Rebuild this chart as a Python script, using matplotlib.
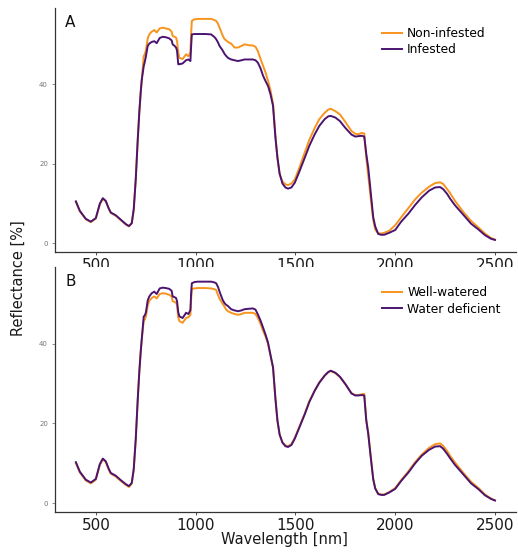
import matplotlib
matplotlib.use("Agg")
import matplotlib.pyplot as plt

# wavelengths [nm]
wl = [400, 420, 450, 475, 500, 520, 535, 550, 565, 575, 600, 625, 650, 666, 680, 690,
      700, 710, 718, 725, 730, 740, 745, 751, 760, 768, 780, 793, 805, 820, 835, 850,
      868, 880, 885, 895, 902, 907, 913, 919, 935, 952, 964, 974, 977, 981, 994, 1010,
      1050, 1078, 1095, 1103, 1112, 1120, 1135, 1145, 1153, 1162, 1178, 1195, 1212, 1230,
      1245, 1265, 1287, 1300, 1312, 1325, 1338, 1350, 1363, 1375, 1388, 1400, 1410, 1421,
      1435, 1450, 1463, 1480, 1497, 1520, 1547, 1570, 1597, 1620, 1647, 1665, 1677, 1700,
      1723, 1750, 1781, 1800, 1815, 1832, 1845, 1855, 1865, 1878, 1890, 1900, 1915, 1930,
      1945, 1970, 2000, 2030, 2066, 2100, 2133, 2170, 2200, 2225, 2240, 2260, 2275, 2300,
      2342, 2380, 2418, 2450, 2480, 2500]

vis_a = [10.4, 8.0, 6.0, 5.3, 6.2, 9.8, 11.2, 10.5, 8.6, 7.6, 6.9, 5.8, 4.7, 4.2, 5.0, 8.5,
         16.0, 26.0, 33.0, 38.0, 41.0]
vis_b = [10.3, 7.9, 5.9, 5.2, 6.1, 9.8, 11.2, 10.5, 8.6, 7.6, 6.9, 5.8, 4.8, 4.3, 5.1, 8.6,
         16.0, 26.0, 33.0, 38.0, 41.0]

non_infested = vis_a + [
    47.0, 47.5, 48.5, 51.5, 52.5, 53.2, 53.6, 53.0, 54.0, 54.2, 54.0,
    53.8, 53.2, 52.1, 51.9, 51.7, 50.8, 48.0, 46.6, 46.3, 47.5, 47.0, 48.0, 52.0, 55.9, 56.3, 56.4,
    56.4, 56.4, 56.1, 55.9, 55.2, 54.2, 52.3, 51.3, 51.0, 50.6, 50.2, 49.2, 49.2, 49.6,
    50.0, 49.8, 49.7, 49.4, 48.3, 46.4, 44.6, 43.0, 40.8, 38.5, 35.0, 27.0, 21.5, 17.3,
    15.5, 14.8, 14.6, 15.0, 16.0, 19.0, 22.8, 26.0, 29.0, 31.2, 32.8, 33.6, 33.8, 33.2,
    32.4, 30.5, 28.2, 27.5, 27.4, 27.7, 27.6, 21.5, 17.0, 11.0, 5.8, 3.4, 2.5, 2.4,
    2.6, 3.1, 4.5, 6.5, 8.8, 11.0, 12.7, 14.2, 15.1, 15.3, 14.9, 13.6, 12.6, 10.6,
    7.8, 5.6, 3.9, 2.4, 1.3, 0.9]
infested = [v + 0.1 for v in vis_a[:14]] + vis_a[14:] + [
    44.5, 45.5, 47.0, 49.6, 50.2, 50.6, 50.8, 50.3, 51.6, 51.9, 51.8,
    51.5, 51.0, 50.0, 49.6, 49.2, 48.4, 45.0, 45.0, 45.2, 46.0, 46.2, 45.8, 49.0, 52.5, 52.6, 52.6,
    52.6, 52.5, 51.8, 51.3, 50.5, 49.6, 48.5, 47.6, 47.1, 46.6, 46.2, 46.0, 45.8, 46.0,
    46.2, 46.2, 46.2, 46.0, 45.4, 44.0, 42.1, 40.8, 39.5, 37.5, 34.5, 26.5, 21.5, 17.5,
    15.0, 14.0, 13.7, 14.0, 15.2, 18.0, 21.5, 24.5, 27.4, 29.5, 31.2, 31.9, 32.0, 31.6,
    30.7, 29.0, 27.3, 26.8, 26.9, 27.0, 26.8, 22.5, 19.0, 12.5, 6.5, 4.2, 2.3, 2.1,
    2.1, 2.6, 3.3, 5.4, 7.4, 9.6, 11.5, 13.2, 14.0, 14.1, 13.6, 12.4, 11.2, 9.5,
    7.1, 4.9, 3.4, 2.0, 1.1, 0.8]

well_watered = [v - 0.2 for v in vis_b[:16]] + vis_b[16:] + [
    45.6, 46.0, 46.8, 49.5, 50.7, 51.4, 51.8, 51.3, 52.4, 52.6, 52.5,
    52.2, 51.8, 50.6, 50.4, 50.2, 49.6, 46.5, 45.6, 45.2, 46.4, 46.6, 47.2, 50.5, 53.7, 53.8, 53.9,
    53.9, 53.8, 53.6, 53.4, 52.2, 51.2, 50.0, 49.2, 48.5, 48.1, 47.7, 47.4, 47.2, 47.4,
    47.7, 47.7, 47.7, 47.4, 46.4, 45.0, 43.2, 41.8, 39.9, 37.0, 34.0, 26.0, 20.5, 17.2,
    15.3, 14.5, 14.3, 14.8, 16.4, 19.2, 22.5, 25.6, 28.3, 30.3, 32.0, 32.8, 33.1, 32.6,
    31.6, 29.8, 27.6, 27.1, 27.1, 27.3, 27.4, 21.0, 17.6, 11.5, 6.1, 3.8, 2.4, 2.2,
    2.2, 2.8, 3.8, 5.8, 8.0, 10.3, 12.2, 13.9, 14.8, 15.0, 14.4, 13.1, 11.9, 10.2,
    7.6, 5.4, 3.8, 2.2, 1.2, 0.7]
water_deficient = vis_b + [
    46.8, 47.0, 47.8, 50.8, 51.8, 52.6, 53.0, 52.4, 53.8, 54.0, 53.9,
    53.7, 53.2, 51.8, 51.6, 51.4, 50.6, 47.8, 46.8, 46.4, 47.7, 47.4, 48.4, 52.0, 55.1, 55.4, 55.5,
    55.5, 55.5, 55.3, 55.1, 54.2, 53.0, 51.0, 50.1, 49.7, 49.4, 48.6, 48.3, 48.1, 48.3,
    48.6, 48.7, 48.8, 48.5, 47.3, 45.8, 44.0, 42.3, 40.2, 37.2, 34.0, 26.2, 20.8, 17.2,
    15.2, 14.3, 14.1, 14.6, 16.2, 19.0, 22.3, 25.4, 28.2, 30.2, 32.0, 32.9, 33.2, 32.7,
    31.7, 29.9, 27.5, 27.0, 27.0, 27.1, 27.0, 20.8, 17.4, 11.3, 6.0, 3.7, 2.3, 2.1,
    2.1, 2.7, 3.6, 5.6, 7.7, 10.0, 11.9, 13.4, 14.2, 14.3, 13.7, 12.4, 11.3, 9.6,
    7.2, 5.0, 3.5, 2.0, 1.1, 0.7]

panels = [
    ("A", non_infested, infested, "Non-infested", "Infested"),
    ("B", well_watered, water_deficient, "Well-watered", "Water deficient"),
]

orange = "#F7941D"
purple = "#4B1470"

fig = plt.figure(figsize=(5.18, 5.56), dpi=100)
boxes = [[0.106, 0.547, 0.89, 0.439], [0.106, 0.079, 0.89, 0.441]]

for box, (tag, s1, s2, lab1, lab2) in zip(boxes, panels):
    ax = fig.add_axes(box)
    ax.plot(wl, s1, color=orange, lw=1.4, label=lab1)
    ax.plot(wl, s2, color=purple, lw=1.4, label=lab2)
    ax.set_xlim(295, 2605)
    ax.set_ylim(-2.2, 59.2)
    ax.set_xticks([500, 1000, 1500, 2000, 2500])
    ax.set_yticks([0, 20, 40])
    for side in ["top", "right"]:
        ax.spines[side].set_visible(False)
    for side in ["left", "bottom"]:
        ax.spines[side].set_color("#333333")
        ax.spines[side].set_linewidth(0.9)
    ax.tick_params(axis="x", labelsize=11, colors="#333333", labelcolor="#1a1a1a",
                   length=2.5, width=0.6, pad=2)
    ax.tick_params(axis="y", labelsize=5, colors="#666666", labelcolor="#777777",
                   length=2, width=0.5, pad=3)
    ax.text(0.022, 0.94, tag, transform=ax.transAxes, fontsize=11, color="#111111",
            ha="left", va="center")
    ax.legend(loc="upper left", bbox_to_anchor=(0.69, 0.955), frameon=False,
              fontsize=8.8, handlelength=1.7, handletextpad=0.4, labelspacing=0.25,
              borderpad=0.2)

fig.text(0.035, 0.5, "Reflectance [%]", rotation=90, ha="center", va="center",
         fontsize=10.5, color="#1a1a1a")
fig.text(0.55, 0.03, "Wavelength [nm]", ha="center", va="center",
         fontsize=10.5, color="#1a1a1a")

fig.savefig("out.png", dpi=100)
